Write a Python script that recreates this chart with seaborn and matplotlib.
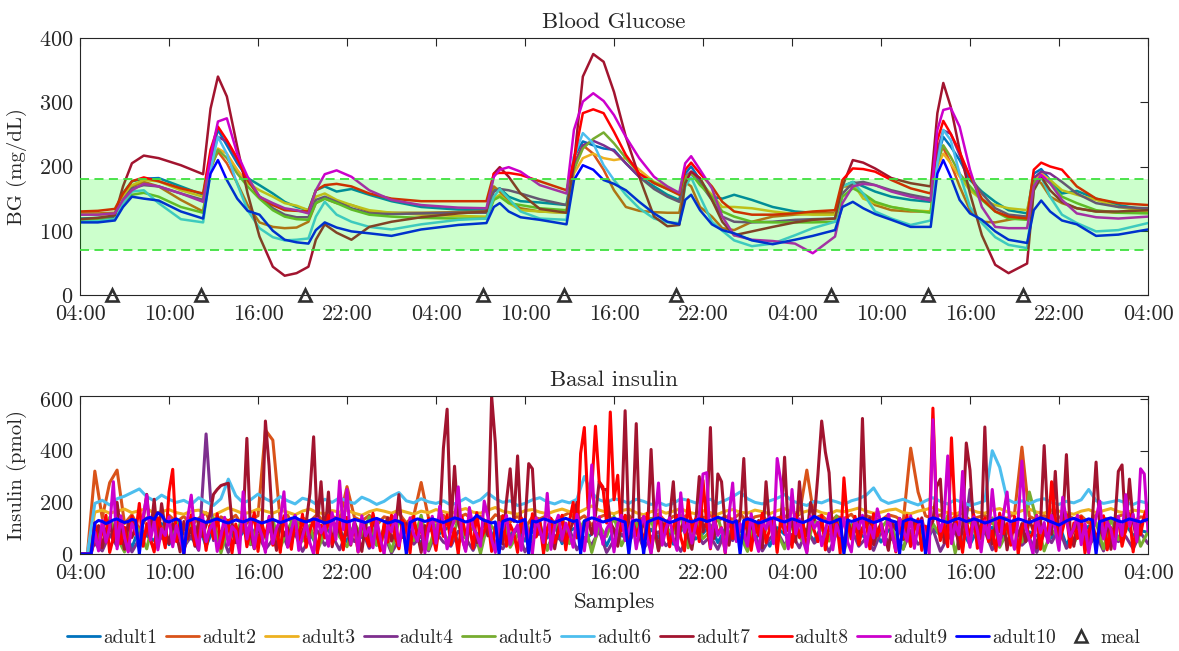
import numpy as np
import pandas as pd
import matplotlib
matplotlib.use("Agg")
import matplotlib.pyplot as plt
import seaborn as sns
from matplotlib.lines import Line2D

# ---------------------------------------------------------------- subjects
subjects = [f"adult{i}" for i in range(1, 11)]
colors = ["#0072BD", "#D95319", "#EDB120", "#7E2F8E", "#77AC30",
          "#4DBEEE", "#A2142F", "#FF0000", "#CC00CC", "#0000FF"]

# ---------------------------------------------------------------- time axis (hours after 04:00 on day 1)
tick_hours = list(range(0, 73, 6))
tick_labels = ["04:00", "10:00", "16:00", "22:00"] * 3 + ["04:00"]
meal_hours = [2.16, 8.16, 15.17, 27.17, 32.6, 40.16, 50.6, 57.15, 63.6]

# ---------------------------------------------------------------- blood glucose (mg/dL)
bg_hours = [0, 1.2, 2.35, 2.9, 3.5, 4.3, 5.3, 6.8, 8.3, 8.8, 9.3, 9.9, 10.6, 11.3,
            12.1, 13.0, 13.8, 14.6, 15.4, 15.9, 16.5, 17.3, 18.3, 19.5, 21.0, 23.0,
            25.5, 27.4, 27.9, 28.3, 28.9, 29.7, 31.0, 32.8, 33.3, 33.9, 34.6, 35.3,
            36.0, 36.8, 37.7, 38.7, 39.6, 40.4, 40.8, 41.2, 41.8, 42.6, 43.3, 44.1,
            45.3, 46.7, 48.2, 49.4, 50.9, 51.4, 52.1, 52.8, 53.6, 54.7, 56.0, 57.35,
            57.8, 58.2, 58.7, 59.3, 60.0, 60.8, 61.7, 62.6, 63.85, 64.3, 64.8, 65.4,
            66.2, 67.2, 68.5, 70.0, 72.0]

bg_adult1 = [119, 120, 122, 158, 177, 181, 182, 169, 156, 215, 257, 233, 205, 182, 171, 158, 145, 137, 132, 163, 169, 161, 165, 156, 146, 137, 133,
             132, 163, 166, 153, 146, 144, 140, 215, 239, 233, 228, 226, 205, 184, 169, 156, 148, 189, 200, 179, 153, 150, 156, 148, 137, 130, 128,
             127, 169, 176, 169, 161, 153, 148, 145, 215, 246, 231, 210, 179, 161, 145, 132, 127, 189, 196, 179, 158, 162, 150, 140, 132]
bg_adult2 = [127, 127, 128, 153, 169, 176, 169, 148, 130, 200, 223, 205, 174, 140, 113, 106, 104, 105, 114, 143, 150, 143, 140, 130, 128, 128, 129,
             130, 169, 161, 145, 135, 130, 128, 205, 233, 220, 195, 163, 137, 131, 129, 128, 128, 176, 169, 137, 122, 104, 101, 114, 122, 125, 127,
             128, 169, 169, 156, 140, 132, 130, 130, 226, 229, 205, 169, 132, 114, 113, 117, 122, 182, 174, 153, 143, 135, 130, 128, 128]
bg_adult3 = [125, 125, 126, 153, 171, 179, 177, 163, 153, 205, 228, 220, 195, 174, 163, 153, 143, 139, 132, 153, 158, 148, 140, 132, 128, 125, 123,
             122, 150, 156, 143, 132, 130, 128, 189, 213, 220, 213, 210, 213, 195, 176, 168, 158, 184, 189, 174, 156, 137, 137, 135, 130, 126, 125,
             125, 169, 174, 150, 143, 137, 132, 130, 200, 220, 205, 184, 163, 148, 140, 135, 132, 179, 189, 179, 163, 156, 148, 137, 130]
bg_adult4 = [118, 118, 119, 148, 166, 171, 169, 158, 148, 210, 246, 239, 210, 179, 153, 135, 125, 121, 121, 148, 153, 145, 135, 127, 126, 127, 128,
             128, 161, 165, 163, 158, 149, 140, 200, 233, 240, 233, 224, 205, 184, 165, 153, 145, 184, 192, 174, 148, 122, 114, 113, 114, 117, 118,
             119, 158, 174, 176, 171, 163, 156, 150, 226, 256, 251, 218, 184, 158, 135, 125, 122, 182, 192, 189, 176, 158, 143, 137, 135]
bg_adult5 = [117, 117, 118, 143, 156, 159, 153, 137, 128, 195, 226, 213, 189, 169, 150, 132, 122, 118, 117, 143, 150, 143, 133, 125, 122, 120, 119,
             119, 148, 153, 143, 140, 135, 132, 195, 228, 243, 253, 236, 213, 189, 175, 165, 158, 184, 189, 171, 153, 130, 122, 114, 113, 113, 113,
             114, 153, 166, 158, 145, 137, 132, 128, 205, 233, 215, 189, 169, 148, 130, 119, 117, 174, 184, 174, 153, 143, 132, 128, 127]
bg_adult6 = [114, 115, 118, 143, 161, 163, 143, 118, 113, 195, 246, 220, 173, 132, 104, 90, 85, 86, 88, 122, 145, 125, 114, 106, 102, 110, 117,
             119, 153, 165, 150, 130, 119, 117, 215, 252, 236, 202, 179, 156, 135, 119, 113, 112, 169, 183, 153, 114, 100, 85, 76, 80, 93, 104,
             114, 169, 176, 158, 130, 119, 109, 116, 205, 257, 241, 189, 137, 112, 90, 78, 73, 163, 184, 153, 125, 112, 99, 101, 112]
bg_adult7 = [118, 120, 124, 169, 205, 217, 213, 202, 188, 290, 340, 309, 231, 158, 91, 44, 30, 34, 44, 86, 110, 97, 86, 106, 114, 121, 127,
             130, 189, 199, 184, 158, 134, 128, 205, 340, 375, 363, 316, 246, 184, 122, 107, 109, 174, 192, 182, 148, 114, 93, 99, 106, 113, 117,
             119, 169, 210, 206, 197, 182, 174, 169, 283, 330, 293, 226, 158, 93, 47, 34, 49, 163, 184, 163, 145, 135, 130, 130, 132]
bg_adult8 = [130, 131, 134, 158, 177, 183, 177, 166, 158, 226, 262, 241, 213, 179, 153, 140, 132, 131, 130, 163, 171, 173, 169, 158, 150, 146, 146,
             146, 189, 190, 190, 187, 177, 163, 210, 283, 289, 283, 254, 218, 189, 174, 165, 156, 195, 206, 189, 169, 145, 130, 125, 125, 127, 130,
             132, 179, 197, 196, 192, 179, 166, 158, 241, 271, 251, 223, 184, 150, 130, 122, 119, 195, 206, 200, 195, 169, 150, 143, 140]
bg_adult9 = [125, 125, 127, 148, 163, 173, 169, 158, 145, 215, 270, 275, 220, 184, 153, 143, 135, 132, 127, 163, 188, 194, 184, 163, 148, 140, 136,
             135, 184, 195, 199, 192, 171, 158, 257, 301, 314, 302, 280, 246, 213, 184, 169, 159, 205, 216, 195, 166, 122, 93, 86, 84, 80, 65,
             91, 143, 169, 173, 171, 161, 153, 147, 257, 288, 291, 262, 195, 137, 106, 104, 104, 169, 187, 174, 148, 127, 121, 119, 122]
bg_adult10 = [113, 113, 116, 137, 153, 150, 147, 130, 119, 189, 210, 179, 150, 131, 125, 100, 86, 82, 80, 101, 113, 105, 99, 96, 92, 102, 109,
              112, 137, 143, 130, 121, 117, 110, 179, 202, 195, 179, 173, 163, 145, 127, 114, 110, 148, 156, 132, 110, 101, 96, 85, 79, 86, 92,
              101, 137, 145, 135, 126, 117, 106, 106, 189, 210, 184, 148, 127, 117, 99, 86, 81, 132, 147, 130, 116, 110, 92, 94, 102]

bg_series = [bg_adult1, bg_adult2, bg_adult3, bg_adult4, bg_adult5,
             bg_adult6, bg_adult7, bg_adult8, bg_adult9, bg_adult10]

# ---------------------------------------------------------------- basal insulin (pmol)
# 30-minute samples
ins_adult1 = [0, 0, 96, 40, 110, 62, 88, 24, 104, 70, 52, 118, 36, 92,
              80, 58, 112, 30, 98, 66, 120, 44, 86, 104, 56, 74,
              102, 38, 90, 116, 60, 82, 28, 108, 72, 94, 48, 112,
              64, 100, 34, 88, 118, 54, 96, 76, 42, 106, 68, 90,
              110, 46, 84, 100, 58, 122, 36, 92, 74, 104, 50, 86,
              96, 62, 114, 40, 88, 106, 54, 78, 100, 32, 94, 70,
              84, 108, 48, 96, 62, 116, 38, 90, 104, 58, 80, 112,
              44, 98, 72, 88, 110, 56, 94, 30, 102, 76, 64, 118,
              86, 52, 108, 70, 96, 40, 114, 82, 60, 100, 46, 92,
              106, 66, 88, 120, 42, 98, 74, 56, 110, 84, 36, 96,
              80, 104, 58, 92, 112, 48, 86, 70, 100, 62, 116, 34,
              94, 78, 108, 52, 88, 100, 60, 114, 72, 90, 84]
ins_adult2 = [0, 0, 321, 140, 276, 325, 118, 152, 96, 140, 130, 88, 150, 124,
              146, 110, 138, 160, 92, 144, 128, 150, 104, 136, 148, 480,
              441, 132, 150, 98, 140, 126, 154, 118, 146, 134, 261, 142,
              128, 150, 112, 144, 136, 158, 120, 148, 277, 138, 126, 150,
              106, 142, 154, 130, 146, 118, 152, 140, 124, 148, 100, 144,
              136, 150, 122, 146, 160, 130, 148, 112, 142, 154, 128, 138,
              150, 116, 144, 132, 156, 124, 146, 138, 152, 108, 140, 150,
              128, 146, 134, 158, 120, 144, 150, 116, 140, 148, 132, 154,
              325, 138, 150, 122, 146, 136, 154, 118, 148, 140, 130, 152,
              144, 126, 410, 240, 148, 136, 152, 120, 146, 160, 130, 142,
              150, 118, 144, 138, 156, 414, 146, 132, 150, 124, 142, 154,
              136, 148, 120, 152, 140, 130, 146, 156, 126, 144, 138]
ins_adult3 = [0, 0, 162, 170, 158, 166, 174, 160, 168, 176, 158, 164, 172, 160,
              154, 166, 170, 158, 150, 164, 178, 168, 156, 162, 174, 166,
              158, 170, 162, 152, 166, 174, 160, 156, 168, 162, 170, 158,
              150, 164, 172, 166, 158, 170, 162, 154, 166, 160, 172, 164,
              156, 168, 176, 162, 158, 170, 180, 166, 160, 154, 168, 172,
              162, 156, 166, 174, 164, 158, 172, 186, 170, 162, 156, 168,
              174, 160, 152, 164, 170, 158, 166, 176, 162, 156, 168, 160,
              154, 166, 172, 162, 158, 170, 164, 156, 168, 176, 162, 158,
              166, 172, 160, 154, 168, 164, 170, 178, 166, 158, 162, 170,
              174, 160, 156, 166, 172, 180, 168, 160, 154, 166, 172, 162,
              158, 170, 176, 164, 156, 168, 174, 162, 158, 170, 166, 160,
              154, 166, 172, 160, 168, 176, 164, 158, 170, 166, 160]
ins_adult4 = [0, 0, 40, 12, 76, 30, 92, 8, 58, 84, 20, 66, 44, 98,
              26, 70, 14, 465, 52, 88, 6, 62, 94, 36, 74, 18,
              56, 100, 28, 80, 10, 64, 90, 34, 72, 16, 86, 48,
              96, 22, 60, 78, 4, 54, 92, 38, 70, 12, 84, 46,
              30, 88, 62, 14, 76, 100, 42, 20, 68, 94, 8, 58,
              82, 26, 72, 50, 96, 16, 64, 36, 90, 6, 54, 78,
              44, 98, 20, 66, 86, 32, 58, 10, 74, 92, 40, 68,
              18, 84, 52, 100, 28, 70, 12, 60, 88, 34, 76, 24,
              94, 42, 66, 8, 80, 56, 98, 30, 62, 14, 86, 48,
              72, 20, 90, 38, 58, 96, 10, 64, 84, 26, 250, 46,
              88, 16, 70, 52, 94, 34, 62, 6, 80, 44, 98, 22,
              58, 86, 30, 74, 12, 92, 48, 68, 20, 82, 40]
ins_adult5 = [0, 0, 110, 30, 142, 64, 8, 126, 88, 20, 150, 72, 46, 134,
              16, 118, 92, 56, 140, 4, 104, 76, 146, 38, 122, 60,
              134, 24, 96, 148, 50, 112, 12, 84, 138, 66, 28, 120,
              70, 144, 34, 100, 10, 128, 86, 52, 150, 18, 114, 80,
              42, 136, 62, 106, 2, 124, 90, 148, 26, 74, 132, 56,
              118, 14, 98, 142, 40, 82, 128, 6, 110, 68, 146, 32,
              94, 120, 48, 138, 16, 102, 78, 150, 24, 130, 60, 88,
              144, 36, 108, 72, 10, 126, 54, 140, 84, 20, 116, 66,
              30, 132, 96, 50, 148, 8, 112, 76, 124, 44, 100, 136,
              62, 18, 142, 90, 34, 118, 70, 150, 4, 104, 128, 58,
              96, 140, 26, 84, 112, 46, 240, 130, 12, 92, 66, 146,
              38, 108, 74, 122, 20, 136, 56, 98, 144, 30, 86]
ins_adult6 = [0, 0, 196, 208, 190, 214, 224, 238, 252, 222, 206, 228, 212, 200,
              208, 192, 218, 202, 188, 214, 290, 226, 198, 210, 232, 214,
              200, 222, 206, 194, 216, 208, 190, 212, 200, 218, 204, 196,
              220, 208, 192, 204, 224, 238, 206, 198, 214, 202, 196, 206,
              190, 200, 216, 198, 210, 236, 214, 200, 206, 188, 196, 210,
              218, 202, 194, 206, 198, 212, 300, 236, 210, 200, 214, 208,
              196, 212, 204, 192, 200, 188, 196, 214, 208, 198, 206, 212,
              196, 208, 222, 240, 214, 200, 194, 206, 216, 230, 206, 196,
              188, 204, 198, 210, 202, 192, 206, 214, 228, 256, 210, 196,
              204, 212, 200, 190, 206, 218, 204, 194, 210, 200, 188, 196,
              206, 400, 336, 212, 198, 206, 194, 208, 214, 200, 192, 204,
              198, 210, 250, 206, 196, 202, 208, 198, 192, 204, 196]
# 15-minute samples
ins_adult7 = [0, 0, 0, 0,
              60, 110, 24, 92, 130, 48, 200, 86, 18, 122, 64, 104, 36, 128, 231, 74, 212, 52, 195, 96,
              40, 118, 76, 8, 126, 58, 100, 30, 132, 68, 112, 150, 231, 250, 265, 270, 274, 120, 44, 96, 128, 448, 80, 20,
              108, 62, 515, 340, 90, 14, 124, 70, 102, 36, 130, 56, 88, 120, 235, 454, 110, 280, 66, 240, 28, 116, 84, 46,
              98, 34, 126, 72, 10, 114, 58, 132, 84, 22, 106, 140, 50, 92, 230, 64, 118, 40, 128, 76, 6, 110, 88, 132,
              54, 120, 410, 561, 96, 340, 124, 62, 16, 106, 134, 44, 90, 118, 70, 612, 430, 100, 38, 205, 330, 126, 380, 84,
              112, 350, 330, 74, 128, 40, 96, 118, 20, 102, 134, 60, 88, 126, 200, 48, 110, 132, 76, 150, 280, 250, 250, 120,
              96, 30, 124, 555, 86, 116, 505, 58, 132, 70, 405, 104, 12, 122, 80, 138, 280, 48, 100, 126, 66, 18, 114, 300,
              86, 128, 490, 60, 310, 280, 104, 34, 120, 92, 136, 370, 52, 118, 76, 130, 24, 280, 98, 140, 64, 112, 375, 90,
              124, 46, 280, 108, 70, 200, 132, 310, 515, 395, 315, 62, 120, 96, 28, 134, 82, 116, 50, 525, 104, 140, 36, 88,
              118, 72, 14, 126, 94, 138, 56, 110, 30, 122, 84, 140, 66, 102, 128, 260, 290, 44, 116, 90, 134, 20, 106, 430,
              325, 98, 128, 60, 492, 112, 38, 124, 86, 140, 16, 104, 130, 70, 118, 48, 136, 92, 24, 110, 420, 132, 76, 320,
              58, 120, 385, 96, 30, 128, 84, 112, 40, 134, 356, 100, 62, 126, 18, 108, 320, 345, 88, 290, 124, 54, 116, 138, 120]
ins_adult8 = [0, 0, 0, 0,
              120, 20, 88, 150, 6, 64, 132, 40, 104, 12, 146, 76, 196, 30, 118, 58, 8, 140, 92, 24,
              240, 328, 48, 126, 2, 98, 152, 36, 70, 138, 14, 110, 60, 156, 22, 86, 130, 4, 116, 50, 144, 28, 94, 160,
              10, 122, 66, 140, 34, 100, 6, 148, 80, 18, 128, 54, 154, 26, 92, 134, 0, 112, 62, 150, 38, 84, 124, 16,
              142, 58, 102, 8, 136, 72, 30, 158, 90, 12, 118, 46, 150, 64, 20, 130, 96, 4, 146, 56, 108, 26, 138, 80,
              14, 126, 68, 152, 36, 98, 0, 144, 74, 118, 22, 160, 52, 88, 132, 10, 106, 60, 148, 30, 114, 82, 6, 140,
              94, 24, 156, 66, 120, 2, 100, 138, 44, 84, 150, 16, 128, 200, 62, 390, 490, 180, 250, 495, 280, 260, 120, 550,
              210, 305, 90, 150, 18, 134, 70, 112, 40, 158, 8, 96, 142, 56, 124, 28, 104, 150, 66, 12, 210, 88, 136, 48,
              286, 118, 20, 146, 78, 102, 4, 152, 60, 130, 34, 92, 140, 14, 116, 72, 158, 44, 98, 126, 6, 144, 82, 110,
              26, 154, 64, 122, 10, 138, 90, 48, 150, 16, 106, 76, 132, 2, 295, 120, 58, 146, 36, 100, 128, 20, 156, 70,
              112, 40, 142, 84, 8, 124, 62, 150, 30, 96, 136, 14, 108, 74, 565, 160, 52, 118, 28, 450, 144, 88, 6, 130,
              66, 152, 22, 104, 140, 48, 90, 12, 158, 78, 118, 34, 146, 0, 100, 128, 56, 84, 150, 18, 110, 72, 280, 136,
              42, 96, 154, 26, 120, 60, 144, 4, 88, 132, 50, 112, 148, 16, 102, 68, 138, 30, 94, 156, 8, 126, 76, 150, 190]
ins_adult9 = [0, 0, 0, 0,
              84, 12, 130, 46, 102, 280, 20, 148, 66, 8, 118, 90, 36, 140, 228, 54, 126, 16, 98, 72,
              144, 28, 110, 62, 4, 136, 228, 80, 18, 152, 48, 96, 124, 10, 70, 142, 34, 106, 88, 2, 241, 58, 128, 22,
              116, 74, 6, 146, 40, 100, 132, 241, 26, 92, 150, 14, 68, 120, 44, 0, 138, 82, 110, 30, 160, 56, 283, 94,
              250, 38, 124, 8, 148, 70, 102, 24, 134, 60, 0, 114, 86, 152, 32, 108, 16, 140, 76, 50, 128, 4, 98, 146,
              42, 185, 118, 20, 90, 136, 260, 62, 10, 180, 104, 74, 30, 205, 144, 56, 6, 122, 96, 150, 36, 84, 112, 14,
              132, 66, 2, 140, 92, 44, 235, 18, 108, 150, 58, 120, 80, 26, 154, 100, 12, 130, 345, 70, 144, 38, 96, 124,
              8, 116, 150, 52, 88, 134, 20, 104, 146, 64, 0, 122, 275, 34, 98, 140, 60, 14, 237, 84, 126, 42, 110, 152,
              310, 315, 24, 138, 72, 100, 6, 148, 275, 48, 118, 86, 30, 156, 64, 10, 128, 96, 144, 40, 370, 280, 112, 20,
              250, 78, 136, 54, 4, 146, 100, 124, 32, 90, 158, 16, 114, 70, 140, 46, 8, 132, 98, 150, 28, 106, 62, 175,
              120, 36, 154, 80, 12, 138, 94, 50, 148, 22, 110, 130, 66, 2, 520, 160, 88, 142, 380, 40, 116, 74, 320, 100,
              26, 144, 90, 8, 128, 62, 250, 112, 34, 152, 240, 78, 18, 136, 360, 104, 56, 0, 148, 82, 122, 44, 150, 96,
              14, 220, 130, 68, 100, 150, 36, 118, 4, 86, 140, 205, 58, 124, 96, 20, 146, 72, 230, 108, 154, 48, 330, 310, 88]
ins_adult10 = [0, 0, 0, 0,
               120, 130, 126, 118, 124, 132, 136, 128, 122, 126, 134, 130, 0, 128, 138, 142, 134, 160, 150, 128,
               124, 130, 136, 128, 0, 126, 132, 138, 134, 128, 122, 126, 132, 136, 130, 124, 120, 126, 132, 128, 124, 130, 136, 132,
               126, 120, 124, 130, 134, 128, 122, 126, 132, 138, 142, 134, 128, 124, 130, 136, 132, 126, 120, 124, 130, 138, 134, 128,
               124, 128, 134, 130, 126, 122, 128, 134, 138, 132, 126, 120, 124, 130, 126, 118, 0, 122, 130, 136, 132, 126, 130, 136,
               132, 126, 122, 128, 134, 140, 136, 130, 124, 128, 134, 150, 138, 130, 126, 120, 124, 0, 126, 132, 136, 130, 124, 128,
               134, 0, 128, 124, 130, 136, 132, 126, 122, 128, 134, 138, 132, 126, 130, 0, 128, 134, 140, 136, 130, 124, 128, 132,
               138, 134, 128, 124, 0, 126, 132, 128, 0, 124, 130, 136, 140, 134, 128, 122, 126, 132, 138, 134, 128, 124, 130, 136,
               132, 126, 130, 136, 142, 138, 132, 126, 122, 128, 0, 130, 136, 132, 126, 120, 124, 130, 136, 140, 134, 128, 124, 130,
               136, 132, 126, 122, 128, 134, 146, 138, 130, 126, 120, 124, 130, 136, 0, 132, 126, 130, 136, 140, 134, 128, 122, 126,
               132, 138, 134, 128, 124, 0, 126, 132, 136, 130, 124, 128, 0, 134, 140, 136, 130, 126, 122, 128, 134, 138, 132, 126,
               130, 136, 132, 126, 120, 124, 130, 136, 142, 138, 132, 126, 130, 136, 132, 126, 122, 128, 134, 140, 136, 130, 124, 118,
               112, 120, 128, 134, 138, 132, 126, 130, 136, 132, 0, 126, 130, 136, 140, 134, 128, 124, 130, 136, 132, 128, 124, 130, 134]

ins_series = [ins_adult1, ins_adult2, ins_adult3, ins_adult4, ins_adult5,
              ins_adult6, ins_adult7, ins_adult8, ins_adult9, ins_adult10]
ins_step = [0.5, 0.5, 0.5, 0.5, 0.5, 0.5, 0.25, 0.25, 0.25, 0.25]

# ---------------------------------------------------------------- long-form tables
bg_df = pd.concat(
    [pd.DataFrame({"hour": bg_hours, "value": v, "subject": s})
     for s, v in zip(subjects, bg_series)], ignore_index=True)
ins_df = pd.concat(
    [pd.DataFrame({"hour": np.arange(len(v)) * st, "value": v, "subject": s})
     for s, v, st in zip(subjects, ins_series, ins_step)], ignore_index=True)

# ---------------------------------------------------------------- style
sns.set_style("white")
plt.rcParams["font.family"] = ["cmr10", "DejaVu Serif"]
plt.rcParams["mathtext.fontset"] = "cm"
plt.rcParams["axes.formatter.use_mathtext"] = True
plt.rcParams["axes.unicode_minus"] = False

axis_col = "#262626"
fig = plt.figure(figsize=(11.79, 6.51), dpi=100)
ax1 = fig.add_axes([80 / 1179, 1 - 295 / 651, 1068 / 1179, 257 / 651])
ax2 = fig.add_axes([80 / 1179, 1 - 554 / 651, 1068 / 1179, 158 / 651])
pal = dict(zip(subjects, colors))

# ---------------------------------------------------------------- glucose panel
sns.lineplot(data=bg_df, x="hour", y="value", hue="subject", hue_order=subjects,
             palette=pal, estimator=None, sort=False, lw=1.8, legend=False,
             ax=ax1, zorder=2)
ax1.axhspan(70, 180, facecolor=(0, 1, 0), alpha=0.2, lw=0, zorder=3)
for lvl in (70, 180):
    ax1.axhline(lvl, color="#3fe03f", lw=1.3, ls=(0, (5, 3)), zorder=4)
ax1.plot(meal_hours, np.zeros(len(meal_hours)), ls="none", marker="^",
         mfc="none", mec="#303030", ms=9, mew=1.9, clip_on=False, zorder=6)
ax1.set_ylim(0, 400)
ax1.set_yticks([0, 100, 200, 300, 400])
ax1.set_ylabel("BG (mg/dL)", fontsize=15, color=axis_col)
ax1.set_title("Blood Glucose", fontsize=16.5, color=axis_col, pad=7)

# ---------------------------------------------------------------- insulin panel
sns.lineplot(data=ins_df, x="hour", y="value", hue="subject", hue_order=subjects,
             palette=pal, estimator=None, sort=False, lw=2.2, legend=False,
             ax=ax2)
ax2.set_ylim(0, 612)
ax2.set_yticks([0, 200, 400, 600])
ax2.set_ylabel("Insulin (pmol)", fontsize=15, color=axis_col)
ax2.set_title("Basal insulin", fontsize=16.5, color=axis_col, pad=7)
ax2.set_xlabel("Samples", fontsize=16.5, color=axis_col, labelpad=7)

for ax in (ax1, ax2):
    ax.set_xlim(0, 72)
    ax.set_xticks(tick_hours)
    ax.set_xticklabels(tick_labels)
    if ax is ax1:
        ax.set_xlabel("")
    ax.tick_params(direction="in", length=6, width=0.8, top=True, right=True,
                   labelsize=16, colors=axis_col)
    ax.tick_params(axis="x", pad=7)
    ax.tick_params(axis="y", pad=5)
    ax.yaxis.set_label_coords(-53 / 1068, 0.5)
    for sp in ax.spines.values():
        sp.set_color(axis_col)
        sp.set_linewidth(0.8)

# ---------------------------------------------------------------- legend
handles = [Line2D([0], [0], color=c, lw=2) for c in colors]
handles.append(Line2D([0], [0], ls="none", marker="^", mfc="none",
                      mec="#303030", ms=8, mew=1.8))
fig.legend(handles, subjects + ["meal"], loc="center",
           bbox_to_anchor=(604 / 1179, 1 - 638 / 651), ncol=11, frameon=False,
           fontsize=14, handlelength=1.7, handletextpad=0.15, columnspacing=0.45)

fig.savefig("out.png", dpi=100)
